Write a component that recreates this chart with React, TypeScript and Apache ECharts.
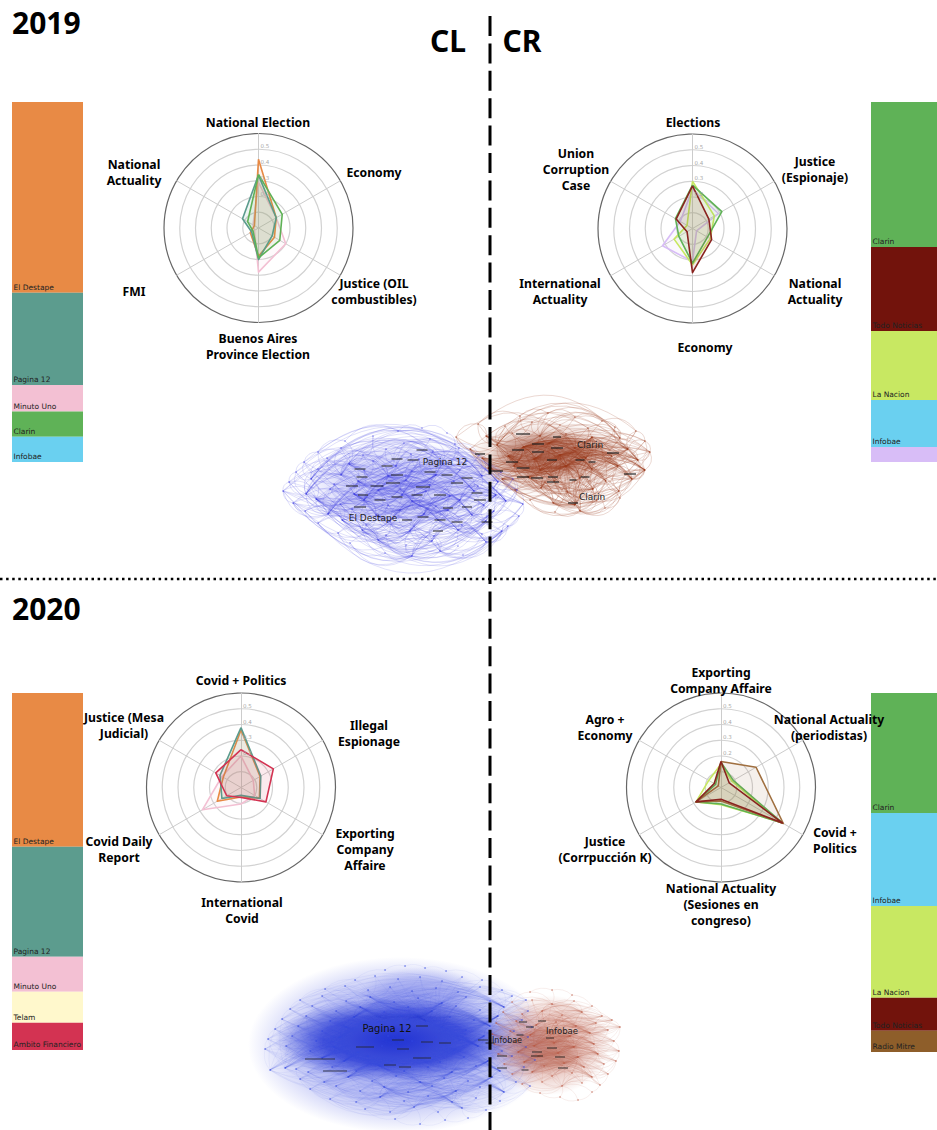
import React, { useEffect, useRef } from "react";
import * as echarts from "echarts";

// ---------- bar shares (percent of bar height) ----------
const barLeft2019Names = ["El Destape", "Pagina 12", "Minuto Uno", "Clarin", "Infobae"];
const barLeft2019Values = [53, 25.6, 7.4, 7, 7];
const barRight2019Names = ["Clarin", "Todo Noticias", "La Nacion", "Infobae", ""];
const barRight2019Values = [40.3, 23.3, 19.2, 13, 4.2];
const barLeft2020Names = ["El Destape", "Pagina 12", "Minuto Uno", "Telam", "Ambito Financiero"];
const barLeft2020Values = [43.1, 30.8, 9.8, 8.7, 7.6];
const barRight2020Names = ["Clarin", "Infobae", "La Nacion", "Todo Noticias", "Radio Mitre"];
const barRight2020Values = [33.4, 25.9, 25.6, 9.2, 5.9];

const ORANGE = "#E88A45", TEAL = "#5C9C8E", PINK = "#F3C0D3", GREEN = "#5FB257", SKY = "#6AD0F0",
  DARKRED = "#72130C", LIME = "#C8E862", LAVENDER = "#D8BDF7", CREAM = "#FFF8CC", CRIMSON = "#D33352", BROWN = "#8E5E2A";
const RADAR_RED = "#8A2420", RADAR_BROWN = "#A07040";

// ---------- radar values (axes listed clockwise from the top) ----------
const radar1Axes = ["National Election", "Economy", "Justice (OIL\ncombustibles)", "Buenos Aires\nProvince Election", "FMI", "National\nActuality"];
const radar1Orange = [0.436, 0.13, 0.117, 0.18, 0.06, 0.03];
const radar1Pink = [0.29, 0.13, 0.2, 0.28, 0.03, 0.04];
const radar1Teal = [0.336, 0.13, 0.1, 0.2, 0.05, 0.117];
const radar1Green = [0.34, 0.174, 0.156, 0.19, 0.04, 0.08];

const radar2Axes = ["Elections", "Justice\n(Espionaje)", "National\nActuality", "Economy", "International\nActuality", "Union\nCorruption\nCase"];
const radar2Lavender = [0.25, 0.19, 0.03, 0.21, 0.22, 0.09];
const radar2Lime = [0.3, 0.16, 0.13, 0.23, 0.135, 0.04];
const radar2Green = [0.275, 0.215, 0.11, 0.22, 0.1, 0.125];
const radar2Red = [0.27, 0.12, 0.14, 0.28, 0.04, 0.12];

const radar3Axes = ["Covid + Politics", "Illegal\nEspionage", "Exporting\nCompany\nAffaire", "International\nCovid", "Covid Daily\nReport", "Justice (Mesa\nJudicial)"];
const radar3Pink = [0.2, 0.09, 0.1, 0.105, 0.283, 0.14];
const radar3Orange = [0.365, 0.14, 0.135, 0.06, 0.174, 0.13];
const radar3Teal = [0.38, 0.145, 0.14, 0.05, 0.14, 0.154];
const radar3Crimson = [0.24, 0.237, 0.183, 0.063, 0.105, 0.185];

const radar4Axes = ["Exporting\nCompany Affaire", "National Actuality\n(periodistas)", "Covid +\nPolitics", "National Actuality\n(Sesiones en\ncongreso)", "Justice\n(Corrpucción K)", "Agro +\nEconomy"];
const radar4Lime = [0.15, 0.08, 0.44, 0.11, 0.183, 0.09];
const radar4Green = [0.16, 0.09, 0.45, 0.105, 0.183, 0.04];
const radar4Brown = [0.165, 0.257, 0.457, 0.085, 0.183, 0.02];
const radar4Red = [0.165, 0.06, 0.45, 0.075, 0.183, 0.05];

// ---------- network nodes ----------
const blue2019Nodes = [
  [398,431],[422,428],[447,433],
  [345,441],[373,436],[404,443],[430,439],[455,444],
  [318,452],[341,448],[363,455],[386,449],[411,454],[433,451],[459,448],[479,455],
  [304,462],[327,458],[349,464],[373,461],[396,466],[419,459],[443,464],[467,461],[489,465],
  [296,472],[318,469],[341,475],[364,470],[388,476],[412,471],[436,475],[460,470],[482,476],[501,472],
  [289,482],[311,479],[334,484],[358,481],[382,486],[406,480],[430,485],[454,481],[478,486],[498,482],[513,479],
  [283,491],[306,494],[330,489],[354,494],[378,490],[402,495],[426,491],[450,496],[474,491],[496,495],[517,490],
  [293,503],[316,499],[340,504],[364,500],[388,505],[412,501],[436,506],[460,500],[484,505],[506,501],[523,504],
  [305,511],[328,514],[352,509],[376,515],[400,510],[424,514],[448,510],[472,515],[494,511],[519,516],
  [318,523],[342,520],[366,525],[390,521],[414,526],[438,520],[462,525],[486,521],[508,526],
  [338,533],[362,530],[386,535],[410,531],[434,536],[458,530],[482,534],[502,531],
  [350,543],[378,540],[406,545],[432,541],[458,546],[486,542],
  [385,553],[412,556],[440,551],[463,555],
];
const blue2019Fans = [
  [39,27,34],[42,27,34],[50,57,67],[53,57,67],[41,16,24],[52,46,56],[72,57,67],[74,46,56],[29,35,45],[31,46,56],
];
const blue2019Local = [
  [18,3,12],[20,4,14],[22,5,15],[27,8,20],[29,10,23],[31,12,24],[33,14,24],
  [36,16,28],[38,18,31],[40,21,33],[44,23,34],[47,25,38],[49,27,41],[51,30,43],[54,32,45],[55,34,45],
  [58,35,50],[60,37,53],[62,40,55],[64,43,56],[66,45,56],[69,46,61],[71,49,63],[73,52,66],[75,54,67],[76,56,67],
  [79,57,72],[81,60,75],[83,62,77],[85,65,77],[88,68,82],[90,71,85],[92,74,86],[94,77,86],[96,78,91],[98,81,94],[100,85,94],[102,87,98],[103,90,100],
];
const blue2019Rim = [0,1,2,7,15,24,34,45,56,67,77,86,94,100,104,103,102,101,95,87,78,68,57,46,35,25,16,8,3,0];

const red2019Nodes = [
  [520,416],[548,413],[575,417],[602,421],
  [478,424],[505,426],[532,422],[560,425],[588,428],[615,427],[636,431],
  [456,437],[486,436],[512,433],[540,436],[566,434],[592,437],[620,438],[645,441],
  [470,449],[497,445],[523,447],[549,443],[575,448],[601,446],[628,449],[650,452],
  [482,458],[508,456],[534,459],[560,455],[586,458],[612,456],[638,460],
  [488,468],[514,466],[540,470],[566,466],[592,469],[618,466],[645,470],
  [502,479],[528,477],[554,481],[580,478],[606,481],[632,479],
  [515,490],[541,488],[567,492],[593,489],[619,491],
  [530,500],[553,503],[575,505],[597,500],[620,498],
  [555,512],[580,511],[605,508],
];
const red2019Fans = [
  [54,19,46],[50,27,40],[16,27,46],[22,11,26],[21,27,40],[29,19,26],[30,27,46],[36,19,33],[37,19,40],[29,41,51],[37,47,59],
  [36,41,46],[21,27,46],[22,27,46],[30,34,46],[29,27,40],[37,27,46],
];
const red2019Local = [
  [12,0,8],[14,0,9],[17,3,10],[20,4,15],[23,7,18],[25,8,18],[28,13,23],[31,15,26],[33,18,26],[35,19,30],
  [38,24,33],[40,26,33],[42,28,39],[44,31,40],[46,33,40],[48,35,45],[49,37,46],[51,39,46],[53,41,51],[55,43,51],[58,47,56],
];
const red2019Rim = [11,4,0,1,2,3,10,18,26,40,46,51,56,59,58,57,52,47,41,34,27,19,11];

const blue2020Nodes = [
  [385,970],[405,966],[425,968],[446,971],
  [355,980],[375,976],[398,979],[420,977],[442,981],[462,977],[482,980],
  [325,989],[345,986],[368,990],[390,987],[412,991],[436,988],[458,992],[480,987],[502,990],
  [300,1000],[322,996],[346,1001],[370,997],[394,1002],[418,998],[442,1003],[466,997],[490,1001],[512,996],[526,1000],
  [290,1009],[312,1006],[336,1011],[360,1007],[384,1012],[408,1007],[432,1011],[456,1006],[480,1010],[504,1007],[528,1011],
  [282,1019],[306,1016],[330,1021],[354,1017],[378,1022],[402,1016],[426,1021],[450,1017],[474,1020],[498,1016],[522,1020],
  [275,1029],[298,1026],[322,1031],[346,1027],[370,1032],[394,1026],[418,1031],[442,1027],[466,1030],[490,1026],[514,1031],[532,1027],
  [268,1039],[292,1036],[316,1041],[340,1037],[364,1042],[388,1036],[412,1041],[436,1037],[460,1040],[484,1036],[508,1041],[528,1037],
  [265,1049],[286,1046],[310,1051],[334,1047],[358,1052],[382,1046],[406,1051],[430,1047],[454,1050],[478,1046],[502,1051],[526,1047],
  [270,1070],[285,1068],[322,1058],[344,1061],[368,1056],[392,1061],[416,1057],[440,1062],[464,1057],[488,1061],[512,1056],[535,1060],
  [296,1069],[308,1072],[332,1067],[356,1071],[380,1066],[404,1071],[428,1067],[452,1072],[476,1066],[500,1071],[524,1067],
  [300,1079],[324,1082],[348,1077],[372,1081],[396,1076],[420,1082],[444,1078],[468,1081],[492,1077],[516,1082],
  [310,1089],[336,1086],[360,1091],[384,1087],[408,1092],[432,1086],[456,1091],[480,1087],[504,1092],[530,1086],
  [330,1099],[356,1102],[380,1097],[404,1101],[428,1096],[452,1102],[476,1098],[500,1101],
  [365,1109],[390,1112],[414,1107],[438,1112],[462,1108],[486,1110],
  [395,1119],[420,1124],[445,1120],[468,1118],
];
const blue2020Fans = [
  [91,42,64],[84,20,52],[60,4,30],[60,101,121],[46,65,100],[71,112,131],
  [89,53,64],[90,65,76],[90,42,52],[91,77,88],
];
const blue2020Local = [
  [23,4,32],[26,6,36],[34,11,45],[37,14,48],[40,18,52],[45,20,56],[48,25,60],[51,28,64],[56,31,68],[59,36,72],[62,40,75],
  [68,42,82],[71,47,85],[74,51,88],[80,53,93],[83,58,97],[86,62,100],[92,65,105],[95,70,108],[98,74,111],[105,77,117],
  [108,82,120],[110,86,121],[114,89,127],[117,94,130],[120,98,131],[125,101,135],[128,106,138],[130,110,139],[134,112,144],[137,117,145],[142,122,148],[144,126,149],
];
const blue2020Rim = [0,1,2,3,10,19,30,41,52,64,76,88,100,111,121,131,139,145,149,148,147,146,140,132,122,112,101,89,77,65,53,42,31,20,11,4,0];

const red2020Nodes = [
  [530,992],[552,990],[572,995],
  [512,1002],[532,1000],[552,1004],[574,1001],[592,1006],
  [503,1012],[522,1014],[542,1011],[562,1015],[582,1012],[602,1016],
  [496,1023],[516,1021],[536,1025],[556,1022],[576,1026],[596,1023],[612,1020],
  [492,1034],[510,1031],[530,1035],[550,1032],[570,1036],[590,1033],[608,1030],[620,1027],
  [494,1044],[514,1042],[534,1046],[554,1043],[574,1047],[594,1044],[614,1041],
  [498,1054],[518,1052],[538,1056],[558,1053],[578,1057],[598,1054],[619,1051],
  [504,1064],[524,1062],[544,1066],[564,1063],[584,1067],[604,1064],[616,1061],
  [512,1074],[532,1072],[552,1076],[572,1073],[592,1077],[608,1074],
  [522,1084],[542,1082],[562,1086],[582,1083],[600,1085],
  [540,1093],[560,1097],[578,1100],[592,1092],
];
const red2020Fans = [
  [31,8,28],[32,8,35],[33,14,43],[38,36,60],[39,21,50],[40,29,60],[24,3,35],[46,36,60],[25,8,42],
];
const red2020Local = [
  [5,0,13],[10,3,20],[12,5,20],[16,8,28],[18,10,28],[23,14,35],[26,17,35],[30,21,42],[34,25,42],[37,29,49],[41,31,49],[44,36,55],[47,38,55],[51,43,60],[54,45,60],[58,50,64],
];
const red2020Rim = [0,1,2,7,13,20,28,35,42,49,55,60,64,63,62,61,56,50,43,36,29,21,14,8,3,0];

// tiny node-name smudges [x, y, width]
const blue2019Smudges = [[360,469,11],[393,483,14],[423,487,14],[422,450,11],[397,459,11],[413,460,11],[387,466,11],[362,477,11],[352,486,12],[377,486,13],[363,495,10],[380,500,11],[360,507,12],[397,497,11],[417,495,11],[440,495,12],[457,483,12],[467,478,11],[477,493,11],[480,500,12],[423,517,11],[407,520,10],[440,520,11],[457,522,11],[438,531,10],[487,522,11],[467,507,10],[448,508,10],[397,475,12],[430,472,11],[447,475,11]];
const red2019Smudges = [[523,434,14],[557,437,8],[538,444,12],[557,448,12],[518,450,12],[538,452,12],[512,462,12],[523,468,13],[497,471,12],[480,454,10],[552,460,10],[580,460,9],[592,462,7],[523,477,12],[553,477,10],[585,477,9],[573,480,7],[537,478,12],[553,482,12],[613,453,12],[630,474,12],[573,503,10]];
const blue2020Smudges = [[320,1059,30],[335,1071,24],[365,1047,18],[398,1040,12],[403,1049,12],[427,1042,12],[445,1043,12],[422,1058,18],[390,1065,12],[405,1067,12],[422,1026,12],[483,1040,10]];
const red2020Smudges = [[523,1022,8],[542,1021,8],[530,1027,8],[520,1035,7],[550,1038,8],[552,1048,10],[537,1052,10],[537,1056,12],[560,1057,10],[502,1056,10],[502,1068,10],[525,1070,7],[563,1068,10],[490,1043,9]];

const networkLabels2019 = ["Pagina 12", "El Destape", "Clarin", "Clarin"];
const networkLabels2020 = ["Pagina 12", "Infobae", "Infobae"];
const tickLabels = ["0.2", "0.3", "0.4", "0.5"];
const yearLabels = ["2019", "2020"];
const sideLabels = ["CL", "CR"];

const FONT = '"Noto Sans"';
// ECharts lays radar indicators out counter-clockwise; the reference runs clockwise.
const ORDER = [0, 5, 4, 3, 2, 1];

function expandLinks(fans: number[][], local: number[][], rim: number[], count: number, fanCurve: number, localCurve: number, rimCurve: number) {
  const links: any[] = [];
  const add = (a: number, b: number, curveness: number) => {
    if (a !== b && a < count && b < count) links.push({ source: a, target: b, lineStyle: { curveness } });
  };
  fans.forEach(([hub, from, to]) => {
    for (let i = from; i <= to; i++) add(hub, i, fanCurve);
  });
  local.forEach(([hub, from, to], k) => {
    for (let i = from; i <= to; i++) add(hub, i, k % 2 ? localCurve : -localCurve);
  });
  for (let i = 0; i + 1 < rim.length; i++) add(rim[i], rim[i + 1], rimCurve);
  return links;
}

function networkSeries(nodes: number[][], links: any[], color: string, opacity: number, width: number, size: number) {
  return {
    type: "graph",
    layout: "none",
    coordinateSystem: "cartesian2d",
    xAxisIndex: 4,
    yAxisIndex: 4,
    silent: true,
    symbol: "circle",
    symbolSize: size,
    itemStyle: { color, opacity: 0.55 },
    lineStyle: { color, opacity, width },
    label: { show: false },
    data: nodes.map(([x, y]) => ({ value: [x, y] })),
    links,
    z: 3,
  };
}

function smudgeSeries(points: number[][], opacity: number) {
  return {
    type: "scatter",
    xAxisIndex: 4,
    yAxisIndex: 4,
    silent: true,
    symbol: "rect",
    symbolSize: (v: number[]) => [v[2], 2],
    itemStyle: { color: "#222", opacity },
    data: points,
    z: 4,
  };
}

function radarSeries(radarIndex: number, entries: [number[], string, number][]) {
  return {
    type: "radar",
    radarIndex,
    symbol: "none",
    silent: true,
    z: 5,
    data: entries.map(([value, color, width]) => ({
      value: ORDER.map((i) => value[i]),
      lineStyle: { color, width, opacity: 1 },
      itemStyle: { color },
      areaStyle: { color, opacity: 0.1 },
    })),
  };
}

function barSeries(gridIndex: number, names: string[], values: number[], colors: string[]) {
  return names.map((name, i) => ({
    type: "bar",
    name: name || "other",
    stack: "s" + gridIndex,
    xAxisIndex: gridIndex,
    yAxisIndex: gridIndex,
    barWidth: "100%",
    silent: true,
    itemStyle: { color: colors[i] },
    label: {
      show: !!name,
      formatter: name,
      position: "insideBottomLeft",
      distance: 1.5,
      fontFamily: '"DejaVu Sans"',
      fontSize: 7.5,
      color: "#222",
    },
    data: [values[i]],
  }));
}

function ringOption(center: number[], axes: string[]) {
  return {
    center,
    radius: 94.5,
    startAngle: 90,
    shape: "circle",
    splitNumber: 6,
    axisName: { show: false },
    axisLine: { lineStyle: { color: "#ccc", width: 1 } },
    axisTick: { show: false },
    splitArea: { show: false },
    splitLine: { lineStyle: { color: ["#d2d2d2", "#d2d2d2", "#d2d2d2", "#d2d2d2", "#d2d2d2", "#d2d2d2", "#666"], width: 1.2 } },
    indicator: ORDER.map((i) => ({ name: axes[i], min: 0, max: 0.6 })),
  };
}

function glow(cx: number, cy: number, rx: number, ry: number, color: string, a: number) {
  return {
    type: "ellipse",
    z: 0,
    silent: true,
    shape: { cx, cy, rx, ry },
    style: {
      fill: {
        type: "radial", x: 0.5, y: 0.5, r: 0.5,
        colorStops: [
          { offset: 0, color: `rgba(${color},${a})` },
          { offset: 0.6, color: `rgba(${color},${a * 0.75})` },
          { offset: 1, color: `rgba(${color},0)` },
        ],
      },
    },
  };
}

function text(t: string, x: number, y: number, font: string, align = "center", fill = "#000", z = 20) {
  return { type: "text", z, silent: true, x, y, style: { text: t, font, fill, align, verticalAlign: "middle", lineHeight: 16 } };
}

function App() {
  const ref = useRef<HTMLDivElement>(null);
  useEffect(() => {
    document.body.style.margin = "0";
    const chart = echarts.init(ref.current!, undefined, { renderer: "svg" });

    const barGrids = [
      { left: 12, top: 102, width: 71, height: 360 },
      { left: 871, top: 102, width: 66, height: 360 },
      { left: 12, top: 693, width: 71, height: 357 },
      { left: 871, top: 693, width: 66, height: 359 },
    ];
    const grids = [...barGrids, { left: 0, top: 0, width: 937, height: 1130 }];
    const xAxes: any[] = barGrids.map((_, i) => ({ type: "category", gridIndex: i, show: false, data: ["share"] }));
    const yAxes: any[] = barGrids.map((_, i) => ({ type: "value", gridIndex: i, show: false, inverse: true, min: 0, max: 100 }));
    xAxes.push({ type: "value", gridIndex: 4, show: false, min: 0, max: 937 });
    yAxes.push({ type: "value", gridIndex: 4, show: false, inverse: true, min: 0, max: 1130 });

    const centers = [[258.5, 228], [692.5, 228.5], [241, 787.5], [721, 787.5]];
    const axesSets = [radar1Axes, radar2Axes, radar3Axes, radar4Axes];
    const labelSpots = [
      [[258, 122], [374, 172], [374, 291], [258, 346], [134, 291], [134, 172]],
      [[693, 122], [815, 169], [815, 291], [705, 347], [560, 291], [576, 169]],
      [[241, 680], [369, 733], [365, 849], [242, 910], [119, 849], [124, 725]],
      [[721, 680], [829, 727], [835, 840], [721, 904], [605, 849], [605, 727]],
    ];

    const graphics: any[] = [
      glow(402, 486, 100, 46, "40,45,225", 0.24),
      glow(548, 458, 80, 38, "150,50,20", 0.3),
      glow(545, 455, 55, 24, "130,35,10", 0.45),
      glow(400, 1045, 152, 88, "60,75,225", 0.48),
      glow(420, 995, 62, 28, "50,65,220", 0.25),
      glow(395, 1040, 120, 42, "10,30,205", 0.85),
      glow(548, 1045, 62, 50, "180,70,50", 0.35),
      glow(545, 1050, 40, 25, "150,50,30", 0.35),
      text(yearLabels[0], 12, 22, `bold 30px ${FONT}`, "left"),
      text(yearLabels[1], 12, 608, `bold 30px ${FONT}`, "left"),
      text(sideLabels[0], 448, 40, `bold 30px ${FONT}`),
      text(sideLabels[1], 522, 40, `bold 30px ${FONT}`),
      { type: "line", z: 50, silent: true, shape: { x1: 490, y1: 16, x2: 490, y2: 1130 }, style: { stroke: "#000", lineWidth: 3, lineDash: [20, 7.4] } },
      { type: "line", z: 50, silent: true, shape: { x1: 0, y1: 579, x2: 937, y2: 579 }, style: { stroke: "#000", lineWidth: 2.5, lineDash: [2.5, 3.6] } },
      text(networkLabels2019[0], 445, 462, `9px "DejaVu Sans"`, "center", "#222"),
      text(networkLabels2019[1], 373, 518, `9px "DejaVu Sans"`, "center", "#222"),
      text(networkLabels2019[2], 590, 445, `9px "DejaVu Sans"`, "center", "#222"),
      text(networkLabels2019[3], 592, 497, `9px "DejaVu Sans"`, "center", "#222"),
      text(networkLabels2020[0], 387, 1028, `10px "DejaVu Sans"`, "center", "#111"),
      text(networkLabels2020[1], 562, 1031, `8.5px "DejaVu Sans"`, "center", "#222"),
      text(networkLabels2020[2], 507, 1040, `8px "DejaVu Sans"`, "center", "#222"),
    ];
    centers.forEach(([cx, cy], r) => {
      axesSets[r].forEach((name, i) => {
        const [x, y] = labelSpots[r][i];
        graphics.push(text(name, x, y, `bold 12.2px ${FONT}`));
      });
      tickLabels.forEach((t, i) => {
        graphics.push(text(t, cx + 2, cy - 94.5 * ((i + 2) / 6) - 3, `5.5px "DejaVu Sans"`, "left", "#aaa", 6));
      });
    });

    chart.setOption({
      animation: false,
      backgroundColor: "#fff",
      grid: grids,
      xAxis: xAxes,
      yAxis: yAxes,
      radar: centers.map((c, i) => ringOption(c, axesSets[i])),
      graphic: { elements: graphics },
      series: [
        ...barSeries(0, barLeft2019Names, barLeft2019Values, [ORANGE, TEAL, PINK, GREEN, SKY]),
        ...barSeries(1, barRight2019Names, barRight2019Values, [GREEN, DARKRED, LIME, SKY, LAVENDER]),
        ...barSeries(2, barLeft2020Names, barLeft2020Values, [ORANGE, TEAL, PINK, CREAM, CRIMSON]),
        ...barSeries(3, barRight2020Names, barRight2020Values, [GREEN, SKY, LIME, DARKRED, BROWN]),
        networkSeries(blue2019Nodes, expandLinks(blue2019Fans, blue2019Local, blue2019Rim, blue2019Nodes.length, 0.2, 0.5, 0.4), "#3a3ae0", 0.26, 0.6, 1.5),
        networkSeries(red2019Nodes, expandLinks(red2019Fans, red2019Local, red2019Rim, red2019Nodes.length, 0.25, 0.5, 0.4), "#9c3a1e", 0.34, 0.6, 1.5),
        networkSeries(blue2020Nodes, expandLinks(blue2020Fans, blue2020Local, blue2020Rim, blue2020Nodes.length, 0.15, 0.3, 0.25), "#3348e0", 0.13, 0.45, 1.8),
        networkSeries(red2020Nodes, expandLinks(red2020Fans, red2020Local, red2020Rim, red2020Nodes.length, 0.15, 0.3, 0.25), "#bb5a44", 0.22, 0.45, 1.6),
        smudgeSeries(blue2019Smudges, 0.5),
        smudgeSeries(red2019Smudges, 0.6),
        smudgeSeries(blue2020Smudges, 0.4),
        smudgeSeries(red2020Smudges, 0.45),
        radarSeries(0, [[radar1Pink, PINK, 1.6], [radar1Orange, ORANGE, 1.6], [radar1Teal, TEAL, 1.6], [radar1Green, GREEN, 1.6]]),
        radarSeries(1, [[radar2Lavender, LAVENDER, 1.6], [radar2Lime, LIME, 1.6], [radar2Green, GREEN, 1.6], [radar2Red, RADAR_RED, 1.6]]),
        radarSeries(2, [[radar3Pink, PINK, 1.6], [radar3Orange, ORANGE, 1.6], [radar3Teal, TEAL, 1.6], [radar3Crimson, CRIMSON, 1.6]]),
        radarSeries(3, [[radar4Lime, LIME, 1.6], [radar4Green, GREEN, 1.6], [radar4Brown, RADAR_BROWN, 1.6], [radar4Red, RADAR_RED, 1.6]]),
      ],
    });
    return () => chart.dispose();
  }, []);
  return <div ref={ref} style={{ position: "absolute", left: 0, top: 0, width: 937, height: 1130 }} />;
}

export default App;
